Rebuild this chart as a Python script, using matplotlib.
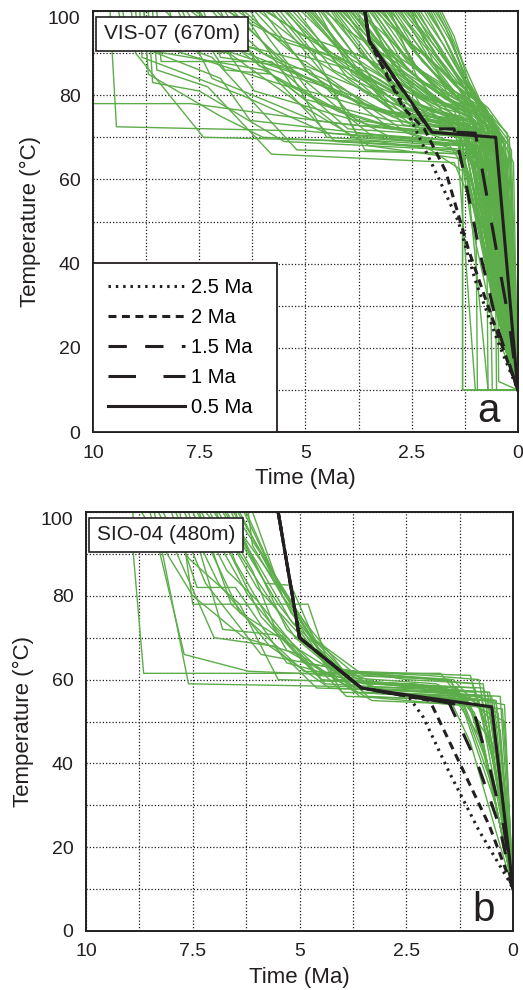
import matplotlib.pyplot as plt
import numpy as np

plt.rcParams['font.family'] = ['Liberation Sans', 'DejaVu Sans']

# ---------------- data: panel a (VIS-07) ----------------
# green t-T paths, (time Ma, temperature C)
paths_a_left = [
    [(10, 100), (10, 78), (7.7, 78), (4.0, 73), (1.3, 71), (1.0, 60), (0.5, 30), (0, 10)],
    [(9.6, 100), (9.55, 90), (9.45, 72.5), (5.0, 71.5), (1.2, 68), (0.9, 55), (0.4, 28), (0, 10)],
    [(8.9, 100), (8.85, 89), (6.5, 80), (4.5, 71), (1.1, 69), (0.8, 50), (0.3, 22), (0, 10)],
    [(8.8, 100), (8.7, 85), (7.0, 75), (6.0, 70), (2.2, 68), (1.3, 62), (1.3, 10), (0, 10)],
    [(8.7, 100), (8.6, 83), (7.5, 81), (5.5, 69), (1.5, 67), (0.7, 62), (0.2, 18), (0, 10)],
    [(9.0, 100), (8.9, 91), (6.0, 86), (3.0, 70), (0.9, 68), (0.6, 50), (0.25, 20), (0, 10)],
    [(8.5, 100), (8.4, 88), (5.8, 88), (4.0, 72), (1.0, 70), (0.7, 58), (0.3, 25), (0, 10)],
    [(8.2, 100), (8.0, 92), (7.2, 89), (5.2, 67), (0.8, 66), (0.55, 45), (0.2, 18), (0, 10)],
    [(9.3, 100), (9.2, 93), (6.8, 90), (5.0, 77), (3.5, 68), (1.4, 65), (1.0, 10), (0, 10)],
    [(8.6, 100), (8.5, 86), (7.3, 82), (5.8, 66), (1.5, 64), (0.9, 50), (0.3, 20), (0, 10)],
    [(9.1, 100), (9.0, 90), (7.4, 70), (3.3, 69), (1.2, 66), (0.75, 45), (0.25, 20), (0, 10)],
    [(8.8, 100), (8.75, 91), (7.0, 84), (6.3, 74), (2.8, 70), (0.6, 67), (0.2, 25), (0, 10)],
    [(8.3, 100), (7.8, 95), (6.2, 91), (4.4, 81), (2.5, 73), (1.2, 72), (0.8, 45), (0, 10)],
    [(9.4, 100), (9.3, 95), (7.9, 90), (5.4, 82), (3.9, 70), (1.0, 68), (0.6, 40), (0, 10)],
]
paths_a_mid = [
    [(8.0, 100), (7.2, 84), (4.8, 74), (1.2, 70), (0.6, 55), (0.25, 22), (0, 10)],
    [(7.8, 100), (6.9, 86), (5.8, 85), (4.3, 69), (1.0, 67), (0.5, 40), (0, 10)],
    [(7.5, 100), (6.2, 81), (3.5, 73), (0.7, 70), (0.4, 45), (0, 10)],
    [(7.2, 100), (5.7, 84), (4.2, 76), (2.2, 70), (0.9, 68), (0.5, 48), (0.15, 18), (0, 10)],
    [(7.0, 100), (6.6, 91), (5.0, 79), (3.0, 74), (1.1, 72), (0.8, 60), (0.35, 28), (0, 10)],
    [(6.8, 100), (5.5, 88), (4.5, 70), (1.6, 68), (1.2, 62), (0.7, 10), (0, 10)],
    [(6.5, 100), (5.3, 82), (3.2, 76), (1.3, 73), (0.9, 63), (0.4, 35), (0, 10)],
    [(6.3, 100), (5.9, 94), (4.7, 78), (2.8, 72), (0.6, 69), (0.3, 40), (0, 10)],
    [(6.0, 100), (4.9, 85), (3.6, 77), (1.5, 74), (1.0, 66), (0.5, 38), (0, 10)],
    [(5.8, 100), (4.4, 83), (3.0, 72), (0.8, 70), (0.45, 45), (0, 10)],
    [(5.6, 100), (4.8, 90), (3.8, 71), (1.2, 69), (0.9, 58), (0.45, 30), (0, 10)],
    [(5.4, 100), (4.2, 87), (2.8, 75), (1.0, 73), (0.6, 55), (0.2, 20), (0, 10)],
    [(5.2, 100), (4.0, 84), (2.5, 73), (0.5, 71), (0.3, 45), (0, 10)],
    [(5.0, 100), (4.5, 94), (3.2, 79), (1.8, 74), (0.7, 71), (0.4, 45), (0, 10)],
    [(7.9, 100), (7.6, 93), (5.2, 85), (3.4, 70), (1.4, 68), (0.85, 52), (0.3, 22), (0, 10)],
    [(7.4, 100), (7.0, 89), (4.9, 86), (3.8, 74), (2.0, 72), (0.4, 68), (0.2, 35), (0, 10)],
    [(6.9, 100), (6.1, 87), (3.9, 80), (2.6, 71), (1.2, 66), (0.8, 45), (0.3, 20), (0, 10)],
    [(6.1, 100), (5.1, 92), (3.4, 83), (2.4, 74), (1.1, 71), (0.6, 55), (0.25, 25), (0, 10)],
    [(7.7, 100), (6.4, 90), (4.4, 82), (3.6, 67), (1.3, 66), (0.95, 50), (0.4, 25), (0, 10)],
    [(6.6, 100), (5.6, 93), (4.0, 88), (2.9, 76), (1.6, 73), (0.7, 64), (0.3, 30), (0, 10)],
    [(5.9, 100), (5.2, 95), (3.7, 86), (2.7, 73), (1.0, 70), (0.55, 50), (0.2, 22), (0, 10)],
    [(5.5, 100), (4.6, 91), (3.3, 81), (2.3, 72), (1.4, 70), (0.9, 60), (0.35, 28), (0, 10)],
    [(5.1, 100), (4.3, 92), (3.1, 84), (2.1, 75), (0.9, 72), (0.5, 52), (0.15, 20), (0, 10)],
    [(5.3, 100), (4.4, 90), (3.3, 84), (2.2, 77), (1.2, 74), (0.8, 58), (0.4, 30), (0, 10)],
    [(5.7, 100), (4.7, 88), (3.5, 80), (2.5, 75), (1.3, 72), (1.0, 55), (0.5, 28), (0, 10)],
    [(6.2, 100), (5.0, 87), (3.8, 82), (2.7, 77), (1.5, 72), (1.15, 58), (0.6, 32), (0, 10)],
    [(6.7, 100), (5.4, 86), (4.1, 80), (2.9, 75), (1.2, 73), (0.9, 56), (0.45, 30), (0, 10)],
    [(7.1, 100), (6.0, 90), (4.6, 84), (3.1, 76), (1.0, 74), (0.7, 55), (0.3, 25), (0, 10)],
    [(7.6, 100), (6.5, 92), (5.0, 88), (3.6, 78), (1.4, 71), (1.1, 50), (0.55, 25), (0, 10)],
    [(5.45, 100), (4.35, 86), (3.1, 80), (1.9, 75), (1.25, 71), (0.5, 66), (0.2, 35), (0, 10)],
    [(6.45, 100), (5.3, 90), (3.9, 86), (2.6, 79), (1.7, 75), (1.0, 65), (0.5, 35), (0, 10)],
    [(6.85, 100), (5.9, 95), (4.3, 89), (3.0, 81), (1.9, 76), (0.6, 72), (0.3, 50), (0, 10)],
    [(5.95, 100), (5.0, 94), (3.6, 89), (2.4, 80), (1.6, 76), (0.8, 70), (0.4, 42), (0, 10)],
]
paths_a_right = [
    [(4.8, 100), (3.6, 84), (2.3, 74), (0.8, 72), (0.5, 55), (0.2, 25), (0, 10)],
    [(4.6, 100), (3.3, 82), (2.0, 76), (1.0, 74), (0.6, 60), (0.3, 32), (0, 10)],
    [(4.5, 100), (3.5, 88), (2.5, 77), (1.3, 75), (0.4, 64), (0.15, 25), (0, 10)],
    [(4.3, 100), (3.0, 83), (1.9, 75), (0.7, 73), (0.4, 55), (0, 10)],
    [(4.2, 100), (3.4, 90), (2.2, 80), (1.4, 76), (0.9, 67), (0.5, 40), (0, 10)],
    [(4.0, 100), (2.9, 85), (1.8, 77), (1.1, 75), (0.7, 63), (0.3, 30), (0, 10)],
    [(3.9, 100), (3.1, 88), (2.0, 79), (1.2, 76), (0.3, 66), (0.1, 25), (0, 10)],
    [(3.8, 100), (2.8, 86), (1.7, 78), (0.9, 75), (0.5, 60), (0.2, 25), (0, 10)],
    [(3.7, 100), (3.0, 91), (2.1, 81), (1.4, 74), (1.2, 62), (0.6, 35), (0, 10)],
    [(3.5, 100), (2.6, 88), (1.6, 79), (0.8, 75), (0.4, 60), (0.15, 22), (0, 10)],
    [(3.4, 100), (2.7, 90), (1.8, 80), (1.0, 76), (0.6, 62), (0.25, 30), (0, 10)],
    [(3.3, 100), (2.4, 87), (1.5, 78), (0.6, 74), (0.35, 55), (0, 10)],
    [(3.2, 100), (2.5, 91), (1.7, 82), (1.2, 77), (0.8, 66), (0.4, 40), (0, 10)],
    [(3.1, 100), (2.3, 89), (1.4, 79), (0.9, 76), (0.2, 68), (0.05, 25), (0, 10)],
    [(3.0, 100), (2.2, 90), (1.5, 81), (1.0, 77), (0.7, 65), (0.3, 35), (0, 10)],
    [(2.9, 100), (2.1, 88), (1.3, 78), (0.7, 75), (0.4, 62), (0.15, 28), (0, 10)],
    [(2.8, 100), (2.0, 90), (1.4, 82), (0.9, 78), (0.45, 68), (0.2, 35), (0, 10)],
    [(2.7, 100), (2.0, 91), (1.3, 80), (0.8, 76), (0.3, 66), (0.1, 25), (0, 10)],
    [(2.6, 100), (1.9, 89), (1.2, 79), (0.6, 75), (0.35, 60), (0, 10)],
    [(2.5, 100), (1.9, 92), (1.35, 83), (0.95, 78), (0.55, 67), (0.25, 38), (0, 10)],
    [(2.4, 100), (1.8, 91), (1.2, 81), (0.75, 76), (0.25, 65), (0.05, 22), (0, 10)],
    [(2.3, 100), (1.75, 92), (1.3, 84), (1.0, 79), (0.6, 69), (0.3, 45), (0, 10)],
    [(2.2, 100), (1.7, 91), (1.15, 82), (0.8, 77), (0.15, 67), (0, 10)],
    [(2.1, 100), (1.65, 92), (1.3, 85), (1.1, 78), (0.7, 70), (0.35, 48), (0, 10)],
    [(2.0, 100), (1.6, 93), (1.2, 84), (0.85, 78), (0.4, 70), (0.15, 35), (0, 10)],
    [(1.9, 100), (1.55, 93), (1.3, 86), (1.15, 79), (0.5, 71), (0.2, 40), (0, 10)],
    [(1.8, 100), (1.5, 94), (1.3, 88), (0.9, 79), (0.3, 69), (0.05, 30), (0, 10)],
    [(4.1, 100), (3.2, 88), (2.4, 72), (1.3, 68), (1.3, 10), (0, 10)],
    [(3.6, 100), (2.9, 89), (2.1, 74), (1.0, 70), (0.95, 10), (0, 10)],
    [(3.0, 100), (2.4, 85), (1.7, 75), (0.75, 71), (0.7, 10), (0, 10)],
    [(2.5, 100), (2.0, 88), (1.6, 79), (0.5, 69), (0.45, 12), (0, 10)],
    [(4.7, 100), (3.9, 85), (2.6, 77), (1.6, 74), (1.1, 60), (0.6, 33), (0, 10)],
    [(4.4, 100), (3.7, 90), (2.7, 81), (1.5, 77), (1.25, 65), (0.75, 40), (0, 10)],
    [(3.95, 100), (3.3, 92), (2.2, 83), (1.25, 79), (0.75, 67), (0.3, 30), (0, 10)],
    [(3.55, 100), (2.8, 84), (1.9, 76), (1.05, 74), (0.65, 64), (0.25, 28), (0, 10)],
    [(2.85, 100), (2.3, 93), (1.6, 84), (1.05, 78), (0.55, 66), (0.2, 30), (0, 10)],
    [(2.15, 100), (1.75, 94), (1.4, 86), (0.7, 76), (0.25, 62), (0.05, 20), (0, 10)],
    [(4.9, 100), (4.1, 91), (3.0, 86), (1.7, 78), (0.6, 71), (0.2, 40), (0, 10)],
    [(4.25, 100), (3.6, 93), (2.6, 85), (1.45, 78), (0.35, 70), (0.1, 30), (0, 10)],
    [(3.75, 100), (3.2, 95), (2.3, 86), (1.35, 80), (0.45, 72), (0.12, 32), (0, 10)],
    [(3.25, 100), (2.7, 94), (1.9, 87), (1.2, 81), (0.25, 71), (0.05, 28), (0, 10)],
]
paths_a_steep = [
    [(4.95, 100), (3.8, 86), (2.4, 78), (1.4, 75), (1.0, 62), (0.7, 42), (0.3, 20), (0, 10)],
    [(4.65, 100), (3.5, 85), (2.2, 77), (1.3, 74), (0.95, 58), (0.6, 36), (0.25, 18), (0, 10)],
    [(4.35, 100), (3.4, 87), (2.1, 79), (1.2, 77), (0.85, 60), (0.55, 38), (0.2, 18), (0, 10)],
    [(4.05, 100), (3.1, 85), (2.0, 78), (1.1, 76), (0.8, 55), (0.45, 30), (0, 10)],
    [(3.85, 100), (2.9, 87), (1.9, 79), (1.15, 75), (0.6, 62), (0.35, 40), (0.1, 18), (0, 10)],
    [(3.65, 100), (2.75, 85), (1.8, 78), (1.05, 76), (0.5, 65), (0.2, 35), (0, 10)],
    [(3.45, 100), (2.6, 86), (1.7, 79), (0.95, 77), (0.4, 67), (0.15, 38), (0, 10)],
    [(3.15, 100), (2.4, 87), (1.6, 80), (0.85, 76), (0.3, 68), (0.1, 35), (0, 10)],
    [(2.95, 100), (2.25, 88), (1.5, 81), (0.8, 77), (0.2, 69), (0.05, 35), (0, 10)],
    [(2.75, 100), (2.1, 89), (1.45, 82), (0.95, 79), (0.5, 70), (0.2, 45), (0, 10)],
    [(2.55, 100), (1.95, 90), (1.4, 83), (0.85, 78), (0.35, 66), (0.1, 30), (0, 10)],
    [(2.35, 100), (1.85, 91), (1.3, 82), (0.7, 77), (0.2, 70), (0.05, 30), (0, 10)],
    [(2.05, 100), (1.7, 93), (1.35, 86), (1.0, 79), (0.45, 70), (0.15, 40), (0, 10)],
    [(1.85, 100), (1.6, 95), (1.35, 89), (1.05, 80), (0.55, 73), (0.25, 55), (0, 10)],
    [(4.55, 100), (3.95, 95), (2.9, 88), (1.9, 81), (1.25, 77), (0.65, 68), (0.3, 40), (0, 10)],
    [(4.15, 100), (3.55, 94), (2.5, 87), (1.6, 81), (1.05, 77), (0.5, 69), (0.2, 38), (0, 10)],
    [(3.35, 100), (2.95, 96), (2.05, 88), (1.3, 81), (0.9, 78), (0.4, 70), (0.15, 42), (0, 10)],
    [(2.65, 100), (2.3, 96), (1.75, 89), (1.2, 82), (0.75, 77), (0.3, 68), (0.08, 30), (0, 10)],
    [(1.95, 100), (1.7, 96), (1.45, 90), (1.25, 84), (0.6, 74), (0.1, 64), (0, 10)],
    [(4.85, 100), (4.0, 89), (2.8, 82), (1.75, 76), (1.15, 70), (0.3, 65), (0.1, 30), (0, 10)],
    [(3.05, 100), (2.55, 92), (1.85, 84), (1.15, 78), (0.7, 72), (0.5, 50), (0.25, 28), (0, 10)],
    [(2.45, 100), (2.05, 93), (1.55, 86), (1.0, 80), (0.65, 66), (0.45, 45), (0.2, 25), (0, 10)],
    [(3.95, 100), (3.0, 90), (2.1, 82), (1.25, 76), (0.7, 68), (0.6, 10), (0, 10)],
    [(3.4, 100), (2.65, 89), (1.8, 81), (1.1, 77), (0.55, 66), (0.5, 10), (0, 10)],
]

# best-fit paths for different onset of final cooling, panel a
a_t25 = [3.6, 3.5, 3.3, 2.6, 1.85, 1.4, 1.0, 0.45, 0]
a_T25 = [100, 93, 89, 76, 60, 50, 36, 21, 10]
a_t20 = [3.6, 3.5, 3.3, 2.7, 2.2, 1.7, 1.15, 0.6, 0]
a_T20 = [100, 93, 89, 77, 72, 62, 43, 27, 10]
a_t15 = [3.6, 3.5, 2.1, 1.5, 1.3, 0.9, 0.45, 0]
a_T15 = [100, 93, 72, 72, 63, 43, 24, 10]
a_t10 = [3.6, 3.5, 2.05, 1.0, 0.85, 0.5, 0.2, 0]
a_T10 = [100, 93, 71.5, 71, 63, 43, 26, 10]
a_t05 = [3.6, 3.5, 2.02, 0.52, 0]
a_T05 = [100, 93, 71.2, 70, 10]

# ---------------- data: panel b (SIO-04) ----------------
paths_b_early = [
    [(8.9, 100), (8.9, 91), (8.65, 61.5), (1.7, 61.5), (0.8, 50), (0.3, 25), (0, 10)],
    [(8.5, 100), (7.7, 66), (6.2, 62), (1.5, 60), (0.5, 45), (0, 10)],
    [(8.4, 100), (7.6, 59), (2.0, 58), (0.4, 55), (0.1, 25), (0, 10)],
    [(8.0, 100), (7.4, 82), (6.5, 82), (5.3, 64), (3.5, 59), (1.3, 58), (0.6, 40), (0, 10)],
    [(7.9, 100), (7.2, 83), (5.9, 66), (3.8, 62), (1.0, 61), (0.4, 38), (0, 10)],
    [(7.8, 100), (7.5, 78), (4.8, 78), (4.2, 60), (0.9, 58), (0.45, 40), (0, 10)],
    [(7.6, 100), (6.8, 72), (5.4, 70.5), (4.5, 60), (0.6, 57), (0.25, 30), (0, 10)],
    [(7.5, 100), (6.4, 76), (4.2, 62), (1.4, 60), (0.3, 48), (0, 10)],
    [(7.3, 100), (6.2, 80), (4.9, 64), (2.5, 60), (0.7, 59), (0.3, 30), (0, 10)],
    [(8.7, 100), (7.5, 80), (6.3, 70), (5.0, 66), (3.7, 57), (0.6, 55), (0.2, 28), (0, 10)],
    [(8.2, 100), (7.6, 89), (6.4, 78), (5.5, 60), (2.3, 59), (1.3, 57), (0.4, 30), (0, 10)],
    [(7.7, 100), (6.9, 83), (5.7, 68), (4.3, 58), (1.9, 57), (0.3, 56), (0.08, 22), (0, 10)],
    [(7.4, 100), (6.7, 86), (6.0, 79), (4.4, 59), (2.7, 58), (0.55, 57), (0.2, 25), (0, 10)],
    [(8.3, 100), (7.0, 70), (5.6, 68), (4.6, 58), (1.45, 57), (0.7, 45), (0.2, 20), (0, 10)],
    [(7.35, 100), (6.6, 78), (4.9, 62), (2.8, 61), (0.95, 59), (0.5, 45), (0.15, 20), (0, 10)],
]
paths_b_late = [
    [(7.2, 100), (6.4, 90), (5.1, 70), (3.7, 58), (0.5, 56), (0.15, 20), (0, 10)],
    [(7.1, 100), (5.9, 75), (4.6, 61), (1.8, 59), (0.35, 52), (0, 10)],
    [(7.0, 100), (6.0, 82), (4.4, 64), (3.0, 57), (1.1, 56), (0.6, 40), (0, 10)],
    [(6.9, 100), (6.1, 86), (5.6, 73), (3.9, 56), (0.8, 55), (0.3, 28), (0, 10)],
    [(6.8, 100), (5.5, 78), (4.1, 60), (2.2, 58), (0.2, 54), (0.05, 20), (0, 10)],
    [(6.7, 100), (5.8, 83), (5.2, 82.5), (4.5, 66), (3.4, 56), (1.2, 55), (0.5, 35), (0, 10)],
    [(6.6, 100), (5.3, 72), (3.6, 58), (0.9, 57), (0.4, 42), (0, 10)],
    [(6.5, 100), (6.3, 94), (4.9, 74), (3.8, 60), (1.6, 58), (1.0, 45), (0.35, 22), (0, 10)],
    [(6.4, 100), (5.2, 76), (3.9, 59), (2.6, 56), (0.4, 55), (0.1, 22), (0, 10)],
    [(6.3, 100), (5.6, 85), (4.3, 63), (3.1, 59), (0.7, 58), (0.35, 35), (0, 10)],
    [(6.2, 100), (6.1, 92), (5.0, 73), (4.0, 57), (1.3, 56), (0.2, 50), (0, 10)],
    [(6.1, 100), (5.4, 80), (4.7, 70), (3.5, 61), (1.5, 60), (0.9, 52), (0.3, 25), (0, 10)],
    [(6.95, 100), (6.5, 88), (5.3, 67), (3.3, 55), (1.0, 54), (0.6, 40), (0, 10)],
    [(6.75, 100), (6.0, 88), (5.2, 74), (4.0, 62), (2.0, 61), (0.8, 60), (0.3, 30), (0, 10)],
    [(6.45, 100), (5.7, 87), (4.6, 69), (3.2, 57), (0.45, 55), (0.12, 22), (0, 10)],
    [(6.25, 100), (5.5, 83), (4.5, 66), (3.6, 56), (0.25, 53), (0.07, 25), (0, 10)],
    [(6.55, 100), (5.9, 90), (4.8, 71), (3.5, 57), (0.75, 56), (0.35, 34), (0, 10)],
]

b_t25 = [5.5, 5.0, 3.55, 2.45, 2.1, 1.5, 0.8, 0.1, 0]
b_T25 = [100, 70, 58, 56, 51, 38, 24, 12, 10]
b_t20 = [5.5, 5.0, 3.55, 2.45, 1.95, 1.2, 0.55, 0]
b_T20 = [100, 70, 58, 56, 55, 39, 25, 10]
b_t15 = [5.5, 5.0, 3.55, 2.45, 1.5, 0.8, 0.32, 0]
b_T15 = [100, 70, 58, 56, 54.5, 39, 25, 10]
b_t10 = [5.5, 5.0, 3.55, 2.45, 0.95, 0.55, 0.22, 0]
b_T10 = [100, 70, 58, 56, 53.5, 39, 25, 10]
b_t05 = [5.5, 5.0, 3.55, 2.45, 0.5, 0]
b_T05 = [100, 70, 58, 56.3, 53.5, 10]

legend_labels = ['2.5 Ma', '2 Ma', '1.5 Ma', '1 Ma', '0.5 Ma']
x_ticks = [10, 7.5, 5, 2.5, 0]
x_ticklabels = ['10', '7.5', '5', '2.5', '0']
y_ticks = [0, 20, 40, 60, 80, 100]

GREEN = '#5cad4a'
INK = '#231f20'
styles = [(0, (0.8, 1.6)), (0, (2.6, 1.8)), (0, (6, 6)), (0, (9, 9)), '-']


def draw_panel(ax, groups, best, name, letter, legend=False):
    for grp in groups:
        for p in grp:
            t = [v[0] for v in p]
            T = [v[1] for v in p]
            ax.plot(t, T, color=GREEN, lw=1.0, zorder=2)
    handles = []
    for (t, T), ls, lab in zip(best, styles, legend_labels):
        h, = ax.plot(t, T, color=INK, lw=2.2, ls=ls, zorder=3, label=lab,
                     dash_capstyle='butt')
        handles.append(h)

    ax.set_xlim(10, 0)
    ax.set_ylim(0, 100)
    ax.set_xticks(x_ticks)
    ax.set_xticklabels(x_ticklabels)
    ax.set_yticks(y_ticks)
    ax.set_xticks([8.75, 6.25, 3.75, 1.25], minor=True)
    ax.set_yticks([10, 30, 50, 70, 90], minor=True)
    ax.grid(which='both', color=INK, ls=(0, (1, 1.6)), lw=0.9, zorder=1)
    ax.tick_params(which='both', length=0, labelsize=14, colors=INK)
    ax.tick_params(axis='x', pad=9)
    ax.tick_params(axis='y', pad=9)
    ax.get_yticklabels()[-1].set_va('top')
    for s in ax.spines.values():
        s.set_linewidth(1.4)
        s.set_color(INK)
        s.set_zorder(5)
    ax.set_xlabel('Time (Ma)', fontsize=16, color=INK, labelpad=5)
    ax.set_ylabel('Temperature (°C)', fontsize=16, color=INK, labelpad=5)

    ax.text(0.026, 0.968, name, transform=ax.transAxes, ha='left', va='top',
            fontsize=15, color=INK, zorder=6,
            bbox=dict(boxstyle='square,pad=0.38', fc='white', ec=INK, lw=1.2))
    ax.text(0.93, 0.025, letter, transform=ax.transAxes, ha='center',
            va='baseline', fontsize=29, color=INK, zorder=6)

    if legend:
        leg = ax.legend(handles=handles, loc='lower left',
                        bbox_to_anchor=(0, 0, 0.433, 0.4), mode='expand',
                        borderaxespad=0, fontsize=14.5, handlelength=3.8,
                        labelspacing=0.55, handletextpad=0.3, borderpad=0.75,
                        fancybox=False, framealpha=1, edgecolor=INK)
        leg.get_frame().set_linewidth(1.3)
        leg.set_zorder(6)


fig = plt.figure(figsize=(5.23, 9.9), dpi=100)
ax_a = fig.add_axes([0.178, 0.5636, 0.812, 0.4253])
ax_b = fig.add_axes([0.1644, 0.0596, 0.8166, 0.4232])

draw_panel(ax_a, [paths_a_left, paths_a_mid, paths_a_right, paths_a_steep],
           [(a_t25, a_T25), (a_t20, a_T20), (a_t15, a_T15), (a_t10, a_T10), (a_t05, a_T05)],
           'VIS-07 (670m)', 'a', legend=True)
draw_panel(ax_b, [paths_b_early, paths_b_late],
           [(b_t25, b_T25), (b_t20, b_T20), (b_t15, b_T15), (b_t10, b_T10), (b_t05, b_T05)],
           'SIO-04 (480m)', 'b')

fig.savefig('out.png', dpi=100)
